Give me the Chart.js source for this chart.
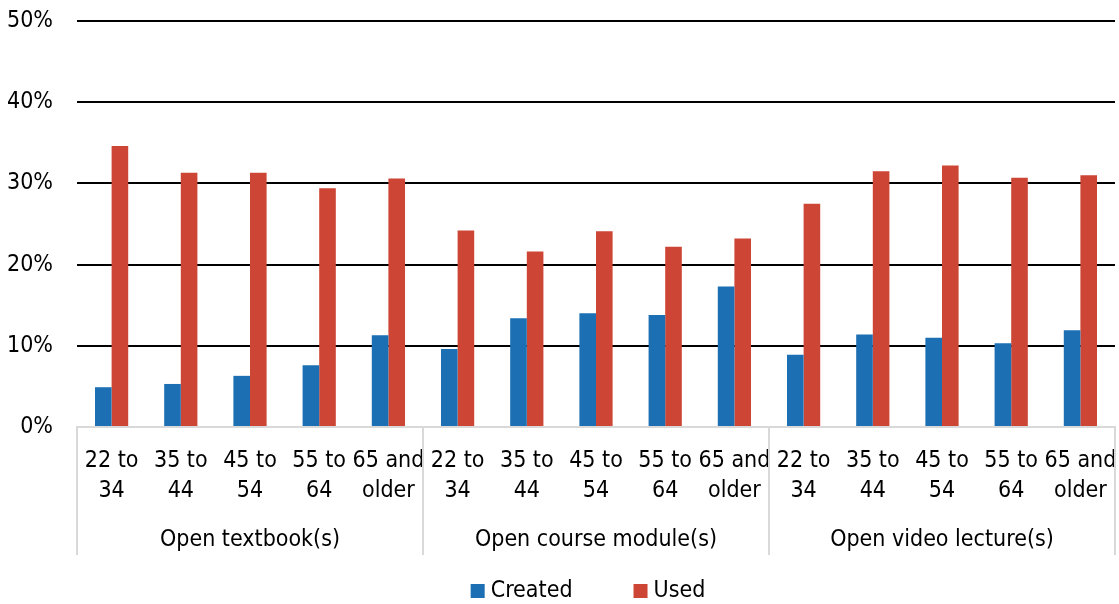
<!DOCTYPE html>
<html>
<head>
<meta charset="utf-8">
<script src="https://cdn.jsdelivr.net/npm/chart.js@4"></script>
<style>
  html, body { margin: 0; padding: 0; background: #fff; }
  #wrap { width: 1119px; height: 604px; position: relative; }
</style>
</head>
<body>
<div id="wrap"><canvas id="chart"></canvas></div>
<script>
// Data (percent)
const groups = ['Open textbook(s)', 'Open course module(s)', 'Open video lecture(s)'];
const ageBands = [['22 to', '34'], ['35 to', '44'], ['45 to', '54'], ['55 to', '64'], ['65 and', 'older']];
const created = [4.9, 5.3, 6.3, 7.6, 11.3, 9.6, 13.4, 14.0, 13.8, 17.3, 8.9, 11.4, 11.0, 10.3, 11.9];
const used = [34.6, 31.3, 31.3, 29.4, 30.6, 24.2, 21.6, 24.1, 22.2, 23.2, 27.5, 31.5, 32.2, 30.7, 31.0];
const yTicks = [0, 10, 20, 30, 40, 50];

const FONT = "'Liberation Sans Narrow', 'Arial Narrow', 'DejaVu Sans Condensed', sans-serif";
const labels = [];
groups.forEach(() => ageBands.forEach(b => labels.push(b)));

// group names + separators under the x axis, and the legend
const groupAxis = {
  id: 'groupAxis',
  afterDraw(chart) {
    const { ctx, chartArea } = chart;
    const x = chart.scales.x;
    const step = (x.right - x.left) / labels.length;
    const n = ageBands.length;
    ctx.save();
    ctx.strokeStyle = '#d9d9d9';
    ctx.lineWidth = 2;
    for (let g = 0; g <= groups.length; g++) {
      const px = x.getPixelForValue(g * n) - step / 2;
      ctx.beginPath();
      ctx.moveTo(Math.round(px), chartArea.bottom);
      ctx.lineTo(Math.round(px), chartArea.bottom + 128);
      ctx.stroke();
    }
    ctx.fillStyle = '#000';
    ctx.font = '23px ' + FONT;
    ctx.textAlign = 'center';
    ctx.textBaseline = 'middle';
    groups.forEach((name, g) => {
      const a = x.getPixelForValue(g * n);
      const b = x.getPixelForValue(g * n + n - 1);
      ctx.fillText(name, (a + b) / 2, chartArea.bottom + 113);
    });

    // legend
    const ds = chart.data.datasets;
    const box = 14, gap = 6, between = 61;
    const widths = ds.map(d => ctx.measureText(d.label).width);
    const total = widths.reduce((s, w) => s + box + gap + w, 0) + between * (ds.length - 1);
    let lx = 588 - total / 2;
    const ly = 591;
    ctx.textAlign = 'left';
    ds.forEach((d, i) => {
      ctx.fillStyle = d.backgroundColor;
      ctx.fillRect(lx, ly - box / 2, box, box);
      ctx.fillStyle = '#000';
      ctx.fillText(d.label, lx + box + gap, ly);
      lx += box + gap + widths[i] + between;
    });
    ctx.restore();
  }
};

new Chart(document.getElementById('chart'), {
  type: 'bar',
  data: {
    labels,
    datasets: [
      { label: 'Created', data: created, backgroundColor: '#1b6fb2' },
      { label: 'Used', data: used, backgroundColor: '#cd4534' },
    ],
  },
  options: {
    responsive: true,
    maintainAspectRatio: false,
    animation: false,
    layout: { padding: { top: 21, right: 4, left: 0, bottom: 0 } },
    datasets: { bar: { categoryPercentage: 0.48, barPercentage: 1.0 } },
    plugins: {
      legend: { display: false },
      tooltip: { enabled: false },
    },
    scales: {
      x: {
        grid: { display: false },
        border: { display: true, color: '#d9d9d9', width: 2 },
        ticks: {
          color: '#000', padding: 11, maxRotation: 0, autoSkip: false,
          font: { family: FONT, size: 23, lineHeight: 1.3 },
        },
        afterFit(scale) {
          scale.height = 177;
          scale.paddingLeft = 0;
          scale.paddingRight = 0;
        },
      },
      y: {
        min: 0, max: 50,
        afterBuildTicks(scale) { scale.ticks = yTicks.map(v => ({ value: v })); },
        grid: {
          color: c => (c.tick.value === 0 ? 'rgba(0,0,0,0)' : '#000'),
          lineWidth: 2, drawTicks: false,
        },
        border: { display: false },
        ticks: {
          color: '#000', padding: 24,
          font: { family: FONT, size: 23 },
          callback: v => v + '%',
        },
        afterFit(scale) {
          scale.width = 77;
          scale.paddingTop = 0;
          scale.paddingBottom = 0;
        },
      },
    },
  },
  plugins: [groupAxis],
});
</script>
</body>
</html>
